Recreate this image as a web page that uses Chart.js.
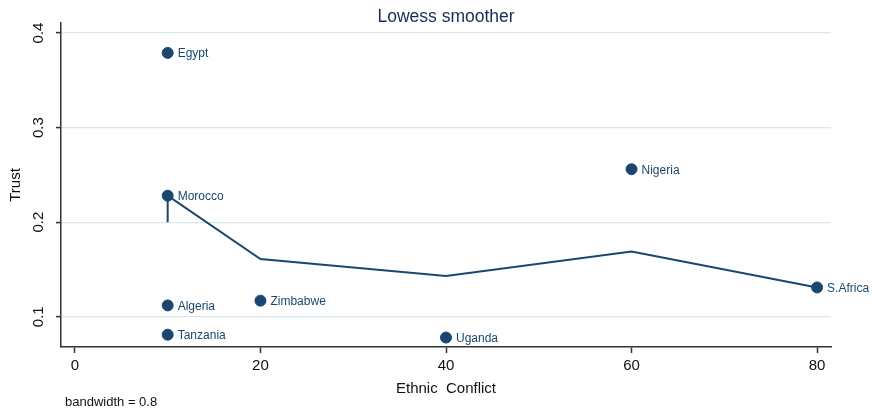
<!DOCTYPE html>
<html>
<head>
<meta charset="utf-8">
<script src="https://cdn.jsdelivr.net/npm/chart.js@4"></script>
<style>
  html, body { margin: 0; padding: 0; background: #fff; }
  #wrap { width: 872px; height: 409px; }
</style>
</head>
<body>
<div id="wrap"><canvas id="chart" width="872" height="409"></canvas></div>
<script>
// scatter data
const countries = ["Egypt", "Morocco", "Algeria", "Tanzania", "Zimbabwe", "Uganda", "Nigeria", "S.Africa"];
const conflict = [10, 10, 10, 10, 20, 40, 60, 80];
const trust = [0.379, 0.228, 0.112, 0.081, 0.117, 0.078, 0.256, 0.131];

// lowess fitted line
const lowessX = [10, 10, 20, 40, 60, 80];
const lowessY = [0.200, 0.228, 0.161, 0.143, 0.169, 0.131];

// ticks
const xTicks = [0, 20, 40, 60, 80];
const yTicks = [0.1, 0.2, 0.3, 0.4];

const navy = "#1a476f";
const font = "Liberation Sans, Arial, Helvetica, sans-serif";

const extras = {
  id: "extras",
  afterDatasetsDraw(chart) {
    const ctx = chart.ctx;
    const meta = chart.getDatasetMeta(0);
    ctx.save();
    ctx.fillStyle = navy;
    ctx.font = "12px " + font;
    ctx.textAlign = "left";
    ctx.textBaseline = "middle";
    meta.data.forEach((pt, i) => {
      ctx.fillText(countries[i], pt.x + 10, pt.y + 1);
    });
    ctx.restore();
  },
  afterDraw(chart) {
    const ctx = chart.ctx;
    const y = chart.scales.y;
    const area = chart.chartArea;
    ctx.save();
    // rotated y tick labels
    ctx.fillStyle = "#111";
    ctx.font = "15px " + font;
    ctx.textAlign = "center";
    ctx.textBaseline = "middle";
    yTicks.forEach((v) => {
      ctx.save();
      ctx.translate(39, y.getPixelForValue(v));
      ctx.rotate(-Math.PI / 2);
      ctx.fillText(String(v), 0, 0);
      ctx.restore();
    });
    // title
    ctx.fillStyle = "#1c2b55";
    ctx.font = "17.5px " + font;
    ctx.fillText("Lowess smoother", (area.left + area.right) / 2, 17);
    // note
    ctx.fillStyle = "#111";
    ctx.font = "13px " + font;
    ctx.textAlign = "left";
    ctx.fillText("bandwidth = 0.8", 65, 402);
    ctx.restore();
  }
};

new Chart(document.getElementById("chart"), {
  type: "scatter",
  data: {
    datasets: [
      {
        label: "Trust",
        data: conflict.map((x, i) => ({ x: x, y: trust[i] })),
        backgroundColor: navy,
        borderColor: navy,
        pointRadius: 5.5,
        pointHoverRadius: 5.5,
        showLine: false
      },
      {
        label: "lowess",
        data: lowessX.map((x, i) => ({ x: x, y: lowessY[i] })),
        borderColor: navy,
        borderWidth: 2,
        pointRadius: 0,
        showLine: true,
        tension: 0
      }
    ]
  },
  options: {
    responsive: false,
    animation: false,
    events: [],
    layout: { padding: { left: 0, top: 23, right: 41, bottom: 0 } },
    plugins: {
      legend: { display: false },
      tooltip: { enabled: false }
    },
    scales: {
      x: {
        type: "linear",
        min: -1.5,
        max: 81.5,
        afterBuildTicks: (s) => { s.ticks = xTicks.map((v) => ({ value: v })); },
        afterFit: (s) => { s.height = 62; },
        grid: { drawOnChartArea: false, drawTicks: true, tickLength: 6, tickColor: "#333", tickWidth: 1.5 },
        border: { display: true, color: "#333", width: 1.5 },
        ticks: { color: "#111", font: { family: font, size: 15 }, padding: 4, maxRotation: 0 },
        title: {
          display: true,
          text: "Ethnic  Conflict",
          color: "#111",
          font: { family: font, size: 15 },
          padding: { top: 0, bottom: 11 }
        }
      },
      y: {
        type: "linear",
        min: 0.068,
        max: 0.4106,
        afterBuildTicks: (s) => { s.ticks = yTicks.map((v) => ({ value: v })); },
        afterFit: (s) => { s.width = 61; },
        grid: { drawOnChartArea: true, color: "#d5e8ec", lineWidth: 1.2, drawTicks: true, tickLength: 5, tickColor: "#333", tickWidth: 1.5 },
        border: { display: true, color: "#333", width: 1.5 },
        ticks: { display: false },
        title: {
          display: true,
          text: "Trust",
          color: "#111",
          font: { family: font, size: 15 },
          padding: { top: 7, bottom: 0 }
        }
      }
    }
  },
  plugins: [extras]
});
</script>
</body>
</html>
